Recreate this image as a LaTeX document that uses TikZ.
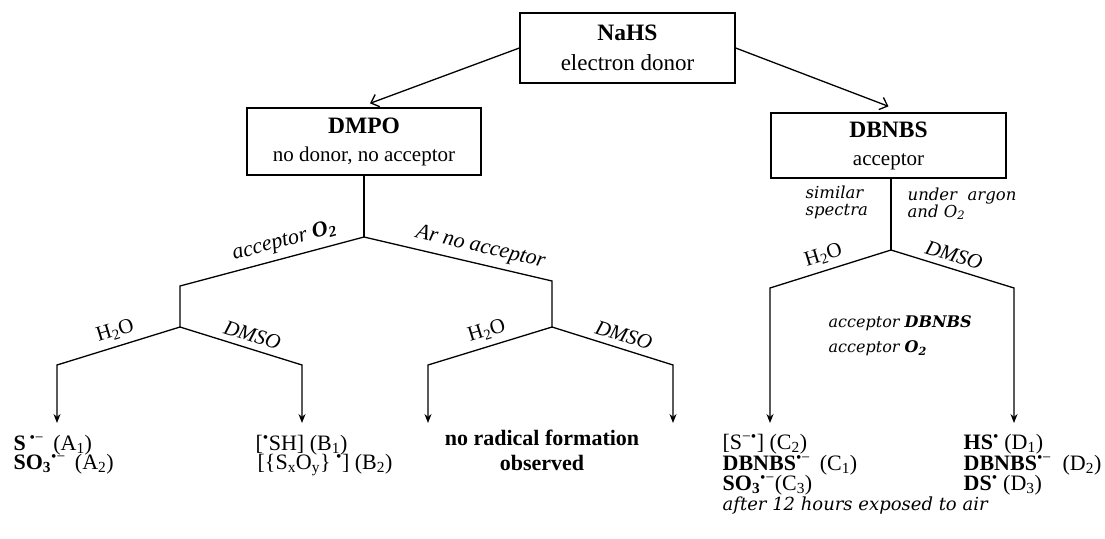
\documentclass[tikz,border=0pt]{standalone}
\usepackage{fontspec}
\setmainfont{Liberation Serif}
\newfontfamily\bookit{DejaVu Serif}
\usetikzlibrary{arrows.meta}
\begin{document}
\begin{tikzpicture}[x=1pt,y=-1pt,line width=1.3pt,
 box/.style={draw,line width=1.3pt,inner sep=0pt,align=center,font=\fontsize{21}{28}\selectfont},
 lab/.style={sloped,above=6pt,inner sep=0pt,font=\fontsize{22}{24}\selectfont\itshape},
 sol/.style={sloped,above=6pt,inner sep=0pt,font=\fontsize{21}{24}\selectfont},
 solit/.style={sol,font=\fontsize{21}{24}\selectfont\itshape},
 down/.style={-{Stealth[length=9pt,width=7pt]}},
 diag/.style={-{Straight Barb[length=7pt,width=13pt]}},
 txt/.style={inner sep=0pt,anchor=base west,font=\fontsize{22}{24}\selectfont},
 note/.style={inner sep=0pt,anchor=north west,align=left,font=\bookit\itshape\fontsize{16.5}{17}\selectfont}]
\useasboundingbox (0,0) rectangle (1105,538);
% boxes
\node[box,minimum width=215pt,minimum height=70pt,font=\fontsize{23}{30}\selectfont] (nahs) at (627.5,48) {{\fontsize{23.5}{30}\selectfont\textbf{NaHS}}\\electron donor};
\node[box,minimum width=234pt,minimum height=67pt] (dmpo) at (364,141.5) {{\fontsize{23.5}{28}\selectfont\textbf{DMPO}}\\no donor, no acceptor};
\node[box,minimum width=235pt,minimum height=65pt] (dbnbs) at (888.5,145.5) {{\fontsize{23.5}{28}\selectfont\textbf{DBNBS}}\\acceptor};
% diagonal arrows
\draw[diag] (nahs.west) -- ([xshift=6pt,yshift=4pt]dmpo.north);
\draw[diag] (nahs.east) -- ([yshift=6pt]dbnbs.north);
% coordinates of the trees
\coordinate (J1) at (364,237);
\coordinate (L1) at (180,286);
\coordinate (J2) at (180,327);
\coordinate (L2a) at (57,365);
\coordinate (A) at (57,423);
\coordinate (L2b) at (302,365);
\coordinate (B) at (302,423);
\coordinate (R1) at (552,281);
\coordinate (J3) at (552,327);
\coordinate (L3a) at (428,365);
\coordinate (E) at (428,423);
\coordinate (L3b) at (673,365);
\coordinate (F) at (673,423);
\coordinate (J4) at (891,250);
\coordinate (L4a) at (770,288);
\coordinate (C) at (770,423);
\coordinate (L4b) at (1014,288);
\coordinate (D) at (1014,423);
% DMPO tree
\draw (dmpo.south) -- (J1);
\draw (J1) -- node[lab,pos=0.41] {acceptor \textbf{O\textsubscript{2}}} (L1) -- (J2);
\draw (J1) -- node[lab,pos=0.6] {Ar no acceptor} (R1) -- (J3);
\draw[down] (J2) -- node[sol,pos=0.49] {H\textsubscript{2}O} (L2a) -- (A);
\draw[down] (J2) -- node[solit,pos=0.56] {DMSO} (L2b) -- (B);
\draw[down] (J3) -- node[sol,pos=0.49] {H\textsubscript{2}O} (L3a) -- (E);
\draw[down] (J3) -- node[solit,pos=0.56] {DMSO} (L3b) -- (F);
% DBNBS tree
\draw (dbnbs.south -| J4) -- (J4);
\draw[down] (J4) -- node[sol,pos=0.52] {H\textsubscript{2}O} (L4a) -- (C);
\draw[down] (J4) -- node[solit,pos=0.48] {DMSO} (L4b) -- (D);
% notes
\node[note] (sim) at (805,185) {similar\\spectra};
\node[note] (arg) at (907,187) {under\ \ argon\\and O\textsubscript{2}};
\node[note,font=\bookit\itshape\fontsize{16}{25}\selectfont] (acc) at (828,315) {acceptor \textbf{DBNBS}\\acceptor \textbf{O\textsubscript{2}}};
% results
\node[txt] (a1) at (13,450) {\textbf{S}\,\textsuperscript{•−}\, (A\textsubscript{1})};
\node[txt] (a2) at (13,469) {\textbf{SO\textsubscript{3}}\textsuperscript{•−}\, (A\textsubscript{2})};
\node[txt] (b1) at (255,450) {[\textsuperscript{•}SH] (B\textsubscript{1})};
\node[txt] (b2) at (257,469) {[\{S\textsubscript{x}O\textsubscript{y}\} \textsuperscript{•}] (B\textsubscript{2})};
\node[txt,anchor=base] (n1) at (542,445) {\textbf{no radical formation}};
\node[txt,anchor=base] (n2) at (542,470) {\textbf{observed}};
\node[txt] (c1) at (722,449) {[S\textsuperscript{−•}] (C\textsubscript{2})};
\node[txt] (c2) at (722,470) {\textbf{DBNBS}\textsuperscript{•−}\ \,(C\textsubscript{1})};
\node[txt] (c3) at (722,490) {\textbf{SO\textsubscript{3}}\textsuperscript{•−}(C\textsubscript{3})};
\node[txt,font=\bookit\itshape\fontsize{18}{20}\selectfont] (c4) at (722,510) {after 12 hours exposed to air};
\node[txt] (d1) at (963,449) {\textbf{HS}\textsuperscript{•} (D\textsubscript{1})};
\node[txt] (d2) at (963,470) {\textbf{DBNBS}\textsuperscript{•−}\ \ (D\textsubscript{2})};
\node[txt] (d3) at (963,490) {\textbf{DS}\textsuperscript{•} (D\textsubscript{3})};
\end{tikzpicture}
\end{document}
